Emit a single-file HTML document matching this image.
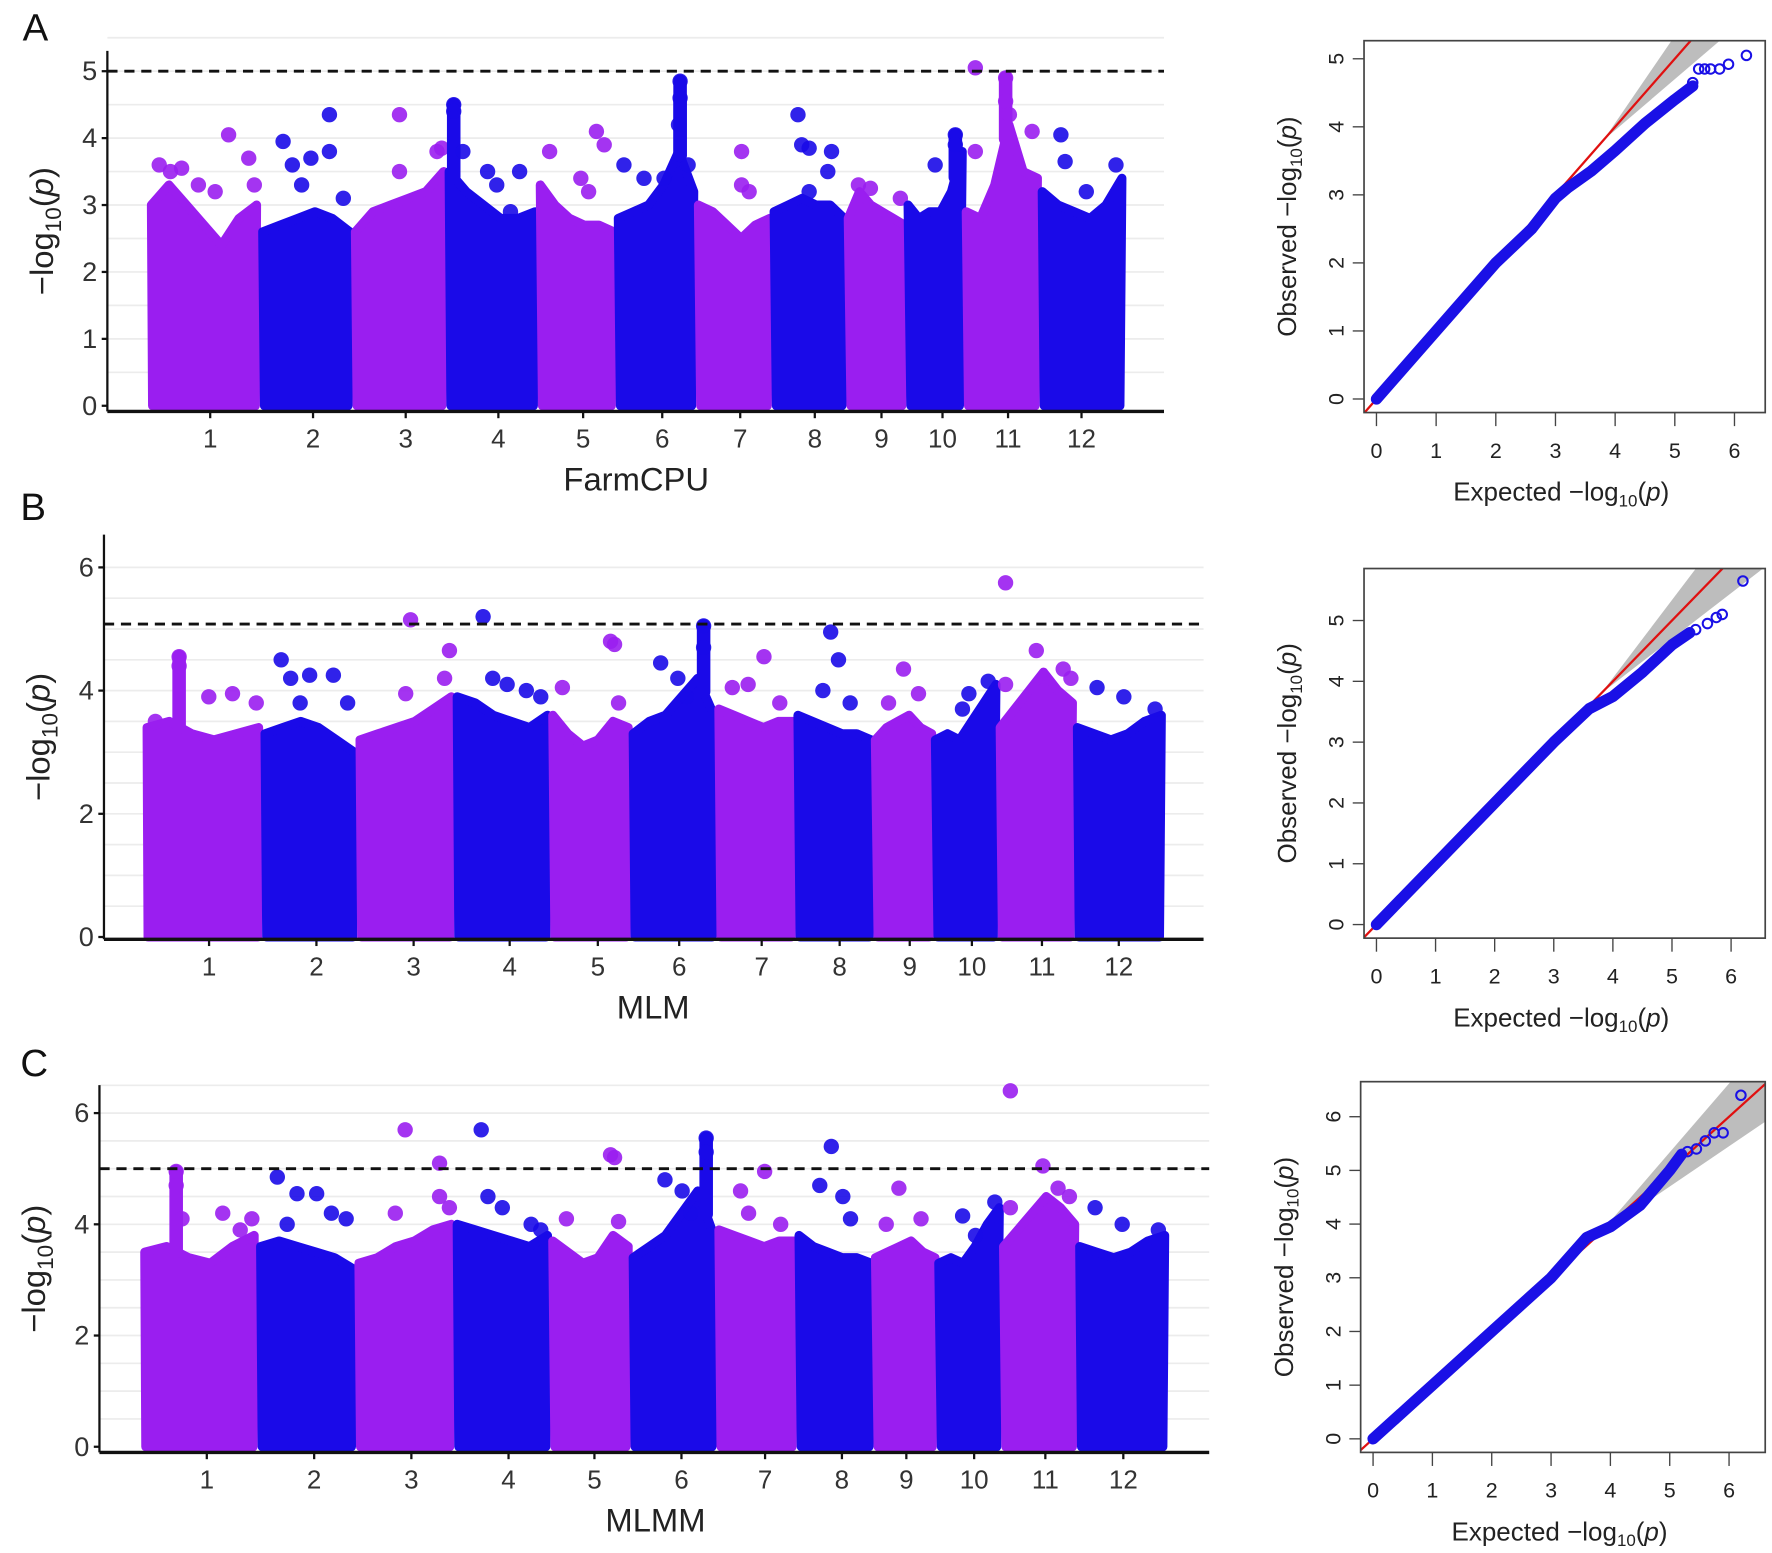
<!DOCTYPE html>
<html><head><meta charset="utf-8"><style>
html,body{margin:0;padding:0;background:#fff;}
svg{display:block;font-family:"Liberation Sans",sans-serif;}
</style></head><body>
<svg id="fig" width="1772" height="1553" viewBox="0 0 1568 1374" preserveAspectRatio="none" xmlns="http://www.w3.org/2000/svg"></svg>
<script>
// ---------- Manhattan data (per panel) ----------
const chromosomes = [1,2,3,4,5,6,7,8,9,10,11,12];
const massA = [[3.0,3.3,3.0,2.7,2.4,2.8,3.0],[2.6,2.7,2.8,2.9,2.8,2.6],[2.6,2.9,3.0,3.1,3.2,3.5],[3.5,3.2,3.0,2.8,2.8,2.9],[3.3,3.0,2.8,2.7,2.7,2.6],[2.8,2.9,3.0,3.3,3.8,3.2],[3.0,2.9,2.7,2.5,2.7,2.8],[2.9,3.0,3.1,3.0,3.0,2.8],[2.8,3.2,3.0,2.9,2.8,2.7],[3.0,2.8,2.9,2.9,3.2,3.8],[2.9,2.8,3.3,4.2,3.5,3.4],[3.2,3.0,2.9,2.8,3.0,3.4]];
const peaksA = [[[0.1,3.6],[0.2,3.5],[0.3,3.55],[0.45,3.3],[0.6,3.2],[0.72,4.05],[0.9,3.7],[0.95,3.3]],[[0.25,3.95],[0.35,3.6],[0.45,3.3],[0.55,3.7],[0.75,4.35],[0.75,3.8],[0.9,3.1]],[[0.5,4.35],[0.5,3.5],[0.9,3.8],[0.95,3.85]],[[0.08,4.5],[0.08,4.4],[0.18,3.8],[0.45,3.5],[0.55,3.3],[0.8,3.5],[0.7,2.9]],[[0.15,3.8],[0.75,4.1],[0.85,3.9],[0.55,3.4],[0.65,3.2]],[[0.1,3.6],[0.35,3.4],[0.6,3.4],[0.8,4.85],[0.8,4.6],[0.9,3.6],[0.78,4.2]],[[0.6,3.8],[0.6,3.3],[0.7,3.2]],[[0.35,4.35],[0.4,3.9],[0.5,3.85],[0.8,3.8],[0.75,3.5],[0.5,3.2]],[[0.2,3.3],[0.4,3.25],[0.9,3.1]],[[0.5,3.6],[0.85,4.05],[0.85,3.9]],[[0.15,5.05],[0.15,3.8],[0.55,4.9],[0.55,4.55],[0.6,4.35],[0.9,4.1]],[[0.25,4.05],[0.3,3.65],[0.55,3.2],[0.9,3.6]]];
const massB = [[3.4,3.5,3.3,3.2,3.3,3.4],[3.3,3.4,3.5,3.4,3.2,3.0],[3.2,3.3,3.4,3.5,3.7,3.9],[3.9,3.8,3.6,3.5,3.4,3.6],[3.6,3.3,3.1,3.2,3.5,3.4],[3.3,3.5,3.6,3.9,4.2,3.6],[3.7,3.6,3.5,3.4,3.5,3.5],[3.6,3.5,3.4,3.3,3.3,3.2],[3.2,3.4,3.5,3.6,3.4,3.3],[3.2,3.3,3.2,3.5,3.8,4.1],[3.4,3.7,4.0,4.3,4.0,3.8],[3.4,3.3,3.2,3.3,3.5,3.6]];
const peaksB = [[[0.3,4.55],[0.3,4.4],[0.55,3.9],[0.75,3.95],[0.95,3.8],[0.1,3.5]],[[0.2,4.5],[0.3,4.2],[0.5,4.25],[0.75,4.25],[0.9,3.8],[0.4,3.8]],[[0.55,5.15],[0.5,3.95],[0.95,4.65],[0.9,4.2]],[[0.3,5.2],[0.4,4.2],[0.55,4.1],[0.75,4.0],[0.9,3.9]],[[0.15,4.05],[0.75,4.8],[0.8,4.75],[0.85,3.8]],[[0.35,4.45],[0.55,4.2],[0.85,5.05],[0.85,4.7],[0.65,3.9]],[[0.2,4.05],[0.6,4.55],[0.4,4.1],[0.8,3.8]],[[0.45,4.95],[0.55,4.5],[0.35,4.0],[0.7,3.8]],[[0.5,4.35],[0.75,3.95],[0.25,3.8]],[[0.55,3.95],[0.85,4.15],[0.45,3.7]],[[0.1,5.75],[0.1,4.1],[0.5,4.65],[0.85,4.35],[0.95,4.2]],[[0.25,4.05],[0.55,3.9],[0.9,3.7]]];
const massC = [[3.5,3.6,3.4,3.3,3.6,3.8],[3.6,3.7,3.6,3.5,3.4,3.2],[3.3,3.4,3.6,3.7,3.9,4.0],[4.0,3.9,3.8,3.7,3.6,3.8],[3.7,3.5,3.3,3.4,3.8,3.6],[3.4,3.6,3.8,4.2,4.6,3.8],[3.9,3.8,3.7,3.6,3.7,3.7],[3.8,3.6,3.5,3.4,3.4,3.3],[3.4,3.5,3.6,3.7,3.5,3.4],[3.3,3.4,3.3,3.6,4.0,4.3],[3.6,3.9,4.2,4.5,4.3,4.0],[3.6,3.5,3.4,3.5,3.7,3.8]];
const peaksC = [[[0.3,4.95],[0.3,4.7],[0.35,4.1],[0.7,4.2],[0.95,4.1],[0.85,3.9]],[[0.2,4.85],[0.4,4.55],[0.6,4.55],[0.75,4.2],[0.9,4.1],[0.3,4.0]],[[0.5,5.7],[0.4,4.2],[0.85,5.1],[0.85,4.5],[0.95,4.3]],[[0.28,5.7],[0.35,4.5],[0.5,4.3],[0.8,4.0],[0.9,3.9]],[[0.75,5.25],[0.8,5.2],[0.85,4.05],[0.2,4.1]],[[0.4,4.8],[0.6,4.6],[0.88,5.55],[0.88,5.3],[0.7,4.2]],[[0.3,4.6],[0.6,4.95],[0.4,4.2],[0.8,4.0]],[[0.45,5.4],[0.3,4.7],[0.6,4.5],[0.7,4.1]],[[0.4,4.65],[0.75,4.1],[0.2,4.0]],[[0.4,4.15],[0.9,4.4],[0.6,3.8]],[[0.12,6.4],[0.12,4.3],[0.55,5.05],[0.75,4.65],[0.9,4.5]],[[0.2,4.3],[0.5,4.0],[0.9,3.9]]];
const thresholdA = 5.0, thresholdB = 5.08, thresholdC = 5.0;
const yTicksA = [0,1,2,3,4,5], yTicksB = [0,2,4,6], yTicksC = [0,2,4,6];
// ---------- QQ data ----------
const qqLineA = [[0,0],[1,1],[2,2],[2.6,2.5],[3,2.95],[3.2,3.1],[3.6,3.35],[4,3.65],[4.5,4.05],[5,4.4],[5.3,4.6]];
const qqTopA = [[5.3,4.65],[5.4,4.85],[5.5,4.85],[5.6,4.85],[5.75,4.85],[5.9,4.92],[6.2,5.05]];
const qqLineB = [[0,0],[1,1],[2,2],[3,3],[3.6,3.55],[4,3.75],[4.5,4.15],[5,4.6],[5.3,4.8]];
const qqTopB = [[5.4,4.85],[5.6,4.95],[5.75,5.05],[5.85,5.1],[6.2,5.65]];
const qqLineC = [[0,0],[1,1],[2,2],[3,3],[3.6,3.75],[4,3.95],[4.5,4.35],[5,5.0],[5.2,5.3]];
const qqTopC = [[5.3,5.35],[5.45,5.4],[5.6,5.55],[5.75,5.7],[5.9,5.7],[6.2,6.4]];
const qqXTicks = [0,1,2,3,4,5,6];
const qqYTicksA = [0,1,2,3,4,5], qqYTicksB = [0,1,2,3,4,5], qqYTicksC = [0,1,2,3,4,5,6];

const NS = "http://www.w3.org/2000/svg";
const svg = document.getElementById('fig');
function el(tag, attrs, parent, text){
  const e = document.createElementNS(NS, tag);
  for (const k in attrs) e.setAttribute(k, attrs[k]);
  if (text !== undefined) e.textContent = text;
  (parent||svg).appendChild(e); return e;
}
const PURPLE = '#9a1ef0', BLUE = '#1a0ae8';

function massAt(m, f){
  const t = Math.max(0, Math.min(1, (f - 0.03) / 0.94)) * (m.length - 1);
  const i = Math.min(m.length - 2, Math.floor(t));
  return m[i] + (m[i+1] - m[i]) * (t - i);
}

function manhattan(cfg){
  const g = el('g', {});
  
  
  const y = v => cfg.y0 - v * cfg.unit;
  const xc = (c, f) => cfg.bounds[c] + f * (cfg.bounds[c+1] - cfg.bounds[c]);
  for (let v = 0.5; v <= cfg.ymax; v += 0.5) {
    const gl = el('line', {x1: cfg.ax, x2: cfg.axEnd, y1: y(v), y2: y(v), stroke: '#ececec', 'stroke-width': 1.5}, g);
    
    
  }
  chromosomes.forEach((chr, i) => {
    const col = i % 2 === 0 ? PURPLE : BLUE;
    const m = cfg.mass[i];
    let pts = [[xc(i,0)+4, y(0)]];
    m.forEach((v, j) => pts.push([xc(i, 0.03 + 0.94 * j / (m.length - 1)), y(v)]));
    pts.push([xc(i,1)-4, y(0)]);
    const poly = el('polygon', {points: pts.map(p => p.join(',')).join(' '), fill: col, stroke: col, 'stroke-width': 8, 'stroke-linejoin': 'round'}, g);
    
    
    const pk = cfg.peaks[i];
    pk.forEach((p, j) => {
      const twin = pk.some((q, k) => k !== j && Math.abs(q[0] - p[0]) < 0.03 && q[1] < p[1] && p[1] - q[1] < 0.45);
      if (twin) {
        const col2 = el('line', {x1: xc(i, p[0]), x2: xc(i, p[0]), y1: y(massAt(m, p[0])), y2: y(p[1]), stroke: col, 'stroke-width': 12, 'stroke-linecap': 'round'}, g);
        
        
      }
    });
    pk.forEach(p => {
      const c = el('circle', {cx: xc(i, p[0]), cy: y(p[1]), r: 6.8, fill: col, 'fill-opacity': 0.9}, g);
      
      
    });
  });
  const ya = el('line', {x1: cfg.ax, x2: cfg.ax, y1: cfg.top, y2: cfg.axisY, stroke: '#111', 'stroke-width': 2}, g);
   
  const xa = el('line', {x1: cfg.ax, x2: cfg.axEnd, y1: cfg.axisY, y2: cfg.axisY, stroke: '#111', 'stroke-width': 3}, g);
   
  cfg.yTicks.forEach(v => {
    el('line', {x1: cfg.ax - 5, x2: cfg.ax, y1: y(v), y2: y(v), stroke: '#111', 'stroke-width': 2}, g);
    const t = el('text', {x: cfg.ax - 9, y: y(v) + 8, 'text-anchor': 'end', 'font-size': 24, fill: '#333'}, g, String(v));
     
  });
  chromosomes.forEach((chr, i) => {
    const cx = cfg.ticks[i];
    el('line', {x1: cx, x2: cx, y1: cfg.axisY, y2: cfg.axisY + 6, stroke: '#111', 'stroke-width': 2}, g);
    const t = el('text', {x: cx, y: cfg.axisY + 32, 'text-anchor': 'middle', 'font-size': 23, fill: '#333'}, g, String(chr));
     
  });
  const th = el('line', {x1: cfg.ax, x2: cfg.axEnd, y1: y(cfg.threshold), y2: y(cfg.threshold), stroke: '#111', 'stroke-width': 2.5, 'stroke-dasharray': '9,6'}, g);
   
  const xt = el('text', {x: cfg.xTitleX, y: cfg.axisY + 70, 'text-anchor': 'middle', 'font-size': 29, fill: '#222'}, g, cfg.title);
   
  const ymid = (cfg.top + cfg.axisY) / 2;
  const yt = el('text', {x: 0, y: 0, transform: `translate(${cfg.ax - 48},${ymid}) rotate(-90)`, 'text-anchor': 'middle', 'font-size': 29, fill: '#222'}, g);
   
  yt.innerHTML = '−log<tspan font-size="20" dy="7">10</tspan><tspan dy="-7">(</tspan><tspan font-style="italic">p</tspan>)';
  const pl = el('text', {x: cfg.letterX, y: cfg.letterY, 'font-size': 34, fill: '#111'}, g, cfg.letter);
   
}

manhattan({name:'manhattan-farmcpu', letter:'A', letterX:20, letterY:36, ax:95, axEnd:1030, top:45, axisY:364, y0:359, unit:59.2, ymax:5.5,
  bounds:[131,230,312,395,476,545,616,683,749,802,853,920,995], ticks:[186,277,359,441,516,586,655,721,780,834,892,957],
  mass:massA, peaks:peaksA, threshold:thresholdA, yTicks:yTicksA, title:'FarmCPU', xTitleX:563});
manhattan({name:'manhattan-mlm', letter:'B', letterX:18, letterY:460, ax:92, axEnd:1065, top:473, axisY:831, y0:829, unit:54.5, ymax:6,
  bounds:[127,232,316,402,487,558,634,704,773,826,883,951,1030], ticks:[185,280,366,451,529,601,674,743,805,860,922,990],
  mass:massB, peaks:peaksB, threshold:thresholdB, yTicks:yTicksB, title:'MLM', xTitleX:578});
manhattan({name:'manhattan-mlmm', letter:'C', letterX:18, letterY:952, ax:88, axEnd:1070, top:960, axisY:1285, y0:1280, unit:49.2, ymax:6.5,
  bounds:[125,228,315,402,487,558,634,705,773,829,886,953,1033], ticks:[183,278,364,450,526,603,677,745,802,862,925,994],
  mass:massC, peaks:peaksC, threshold:thresholdC, yTicks:yTicksC, title:'MLMM', xTitleX:580});

function qq(cfg){
  const g = el('g', {});
  
  
  const x = v => cfg.x0 + v * cfg.ux;
  const y = v => cfg.y0 - v * cfg.uy;
  const cid = 'clip' + cfg.name;
  const cp = el('clipPath', {id: cid}, g);
  el('rect', {x: cfg.l, y: cfg.t, width: cfg.r - cfg.l, height: cfg.b - cfg.t}, cp);
  const inner = el('g', {'clip-path': `url(#${cid})`}, g);
  const band = el('polygon', {points: `${x(3.8)},${y(3.8)} ${x(7)},${y(7.9)} ${x(7)},${y(6.2)}`, fill: '#bdbdbd'}, inner);
   
  const rl = el('line', {x1: x(-0.5), y1: y(-0.5), x2: x(7), y2: y(7), stroke: '#e01010', 'stroke-width': 2}, inner);
   
  const pl = el('polyline', {points: cfg.line.map(p => x(p[0]) + ',' + y(p[1])).join(' '), fill: 'none', stroke: '#1a10e6', 'stroke-width': 10, 'stroke-linejoin': 'round', 'stroke-linecap': 'round'}, inner);
   
  cfg.top.forEach(p => {
    const c = el('circle', {cx: x(p[0]), cy: y(p[1]), r: 4.2, fill: 'none', stroke: '#1a10e6', 'stroke-width': 1.8}, g);
     
  });
  const box = el('rect', {x: cfg.l, y: cfg.t, width: cfg.r - cfg.l, height: cfg.b - cfg.t, fill: 'none', stroke: '#444', 'stroke-width': 1.5}, g);
   
  qqXTicks.forEach(v => {
    el('line', {x1: x(v), x2: x(v), y1: cfg.b, y2: cfg.b + 12, stroke: '#444', 'stroke-width': 1.2}, g);
    const t = el('text', {x: x(v), y: cfg.b + 40, 'text-anchor': 'middle', 'font-size': 19, fill: '#222'}, g, String(v));
     
  });
  cfg.yTicks.forEach(v => {
    el('line', {x1: cfg.l - 10, x2: cfg.l, y1: y(v), y2: y(v), stroke: '#444', 'stroke-width': 1.2}, g);
    const t = el('text', {x: 0, y: 0, transform: `translate(${cfg.l - 18},${y(v)}) rotate(-90)`, 'text-anchor': 'middle', 'font-size': 19, fill: '#222'}, g, String(v));
     
  });
  const xt = el('text', {x: (cfg.l + cfg.r) / 2 - 3, y: cfg.b + 78, 'text-anchor': 'middle', 'font-size': 23, fill: '#222'}, g);
   
  xt.innerHTML = 'Expected −log<tspan font-size="15" dy="5">10</tspan><tspan dy="-5">(</tspan><tspan font-style="italic">p</tspan>)';
  const yt = el('text', {x: 0, y: 0, transform: `translate(${cfg.l - 60},${(cfg.t + cfg.b) / 2}) rotate(-90)`, 'text-anchor': 'middle', 'font-size': 23, fill: '#222'}, g);
   
  yt.innerHTML = 'Observed −log<tspan font-size="15" dy="5">10</tspan><tspan dy="-5">(</tspan><tspan font-style="italic">p</tspan>)';
}
qq({name:'qq-farmcpu', l:1207, r:1562, t:36, b:365, x0:1218, ux:52.8, y0:353, uy:60.2, line:qqLineA, top:qqTopA, yTicks:qqYTicksA});
qq({name:'qq-mlm', l:1207, r:1562, t:503, b:830, x0:1218, ux:52.3, y0:818, uy:53.8, line:qqLineB, top:qqTopB, yTicks:qqYTicksB});
qq({name:'qq-mlmm', l:1204, r:1562, t:957, b:1285, x0:1215, ux:52.5, y0:1273, uy:47.5, line:qqLineC, top:qqTopC, yTicks:qqYTicksC});
</script>
</body></html>
